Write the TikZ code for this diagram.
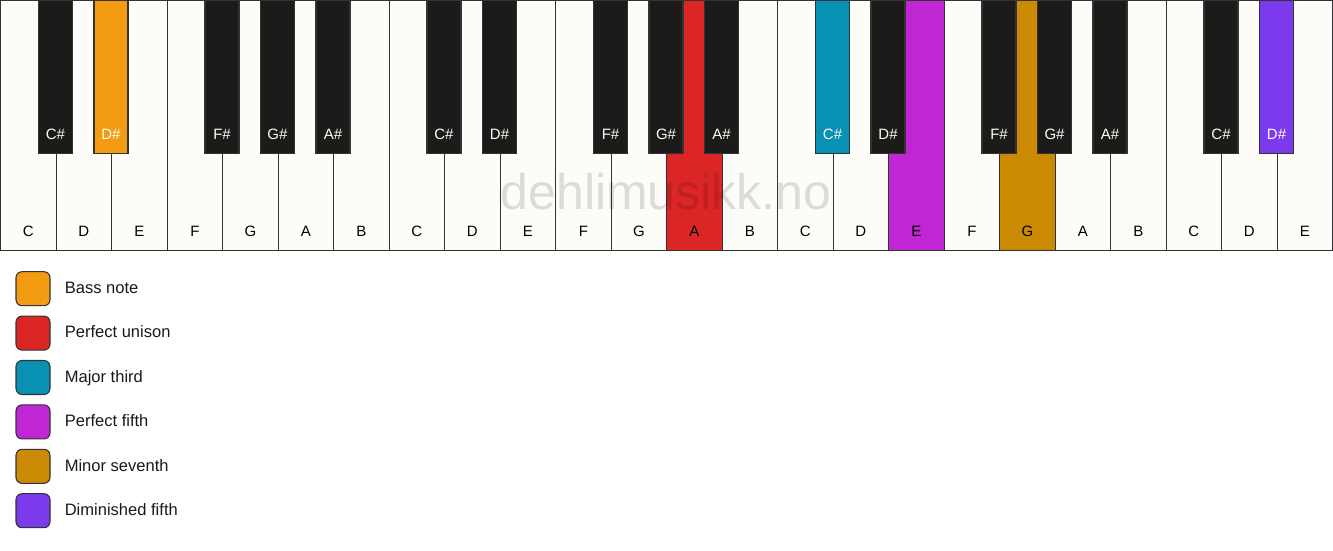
\documentclass[tikz,border=0pt]{standalone}
\usepackage{fontspec}
\setmainfont{Liberation Sans}
\usetikzlibrary{positioning}
\definecolor{keywhite}{HTML}{FDFCF8}
\definecolor{keyblack}{HTML}{1C1B19}
\definecolor{keyline}{HTML}{333333}
\definecolor{bass}{HTML}{F39C12}
\definecolor{unison}{HTML}{DC2626}
\definecolor{third}{HTML}{0891B2}
\definecolor{fifth}{HTML}{C026D3}
\definecolor{seventh}{HTML}{CA8A04}
\definecolor{dimfifth}{HTML}{7C3AED}
\tikzset{
	whitekey/.style={rectangle,draw=keyline,line width=.9pt,fill=keywhite,inner sep=0,minimum width=41.625pt,minimum height=187.5pt,anchor=north west},
	blackkey/.style={rectangle,draw=keyline,line width=.9pt,fill=keyblack,inner sep=0,minimum width=25.5pt,minimum height=114.75pt,anchor=north},
	keyname/.style={anchor=center,yshift=15pt,inner sep=0,font=\fontsize{11.25}{13}\selectfont},
	swatch/.style={rectangle,rounded corners=4.5pt,draw=keyline,line width=.8pt,inner sep=0,minimum size=25.5pt},
	legendtext/.style={inner sep=0,anchor=west,text=black!90,text height=.716em,text depth=0pt,font=\fontsize{12.4}{14}\selectfont},
	watermark/.style={text=black,text opacity=.13,font=\fontsize{37.5}{40}\selectfont}
}
\begin{document}
\begin{tikzpicture}[x=0.75pt,y=-0.75pt]
	\useasboundingbox (0,0) rectangle (1333,550);
	%%%white keys
	\foreach \n/\c [count=\i from 0] in {C/keywhite,D/keywhite,E/keywhite,F/keywhite,G/keywhite,A/keywhite,B/keywhite,
		C/keywhite,D/keywhite,E/keywhite,F/keywhite,G/keywhite,A/unison,B/keywhite,
		C/keywhite,D/keywhite,E/fifth,F/keywhite,G/seventh,A/keywhite,B/keywhite,
		C/keywhite,D/keywhite,E/keywhite}
		\node[whitekey,fill=\c,label={[keyname]below:\n}] (w\i) at (\i*55.5,0) {};
	
	%%%black keys
	\foreach \n/\b/\c in {C\#/1/keyblack,D\#/2/bass,F\#/4/keyblack,G\#/5/keyblack,A\#/6/keyblack,
		C\#/8/keyblack,D\#/9/keyblack,F\#/11/keyblack,G\#/12/keyblack,A\#/13/keyblack,
		C\#/15/third,D\#/16/keyblack,F\#/18/keyblack,G\#/19/keyblack,A\#/20/keyblack,
		C\#/22/keyblack,D\#/23/dimfifth}
		\node[blackkey,fill=\c,label={[keyname,text=keywhite]below:\n}] (b\b) at (\b*55.5,0) {};
	
	\node[watermark] (mark) at (666,192) {dehlimusikk.no};
	
	%%%legend
	\foreach \c/\t [count=\k from 0] in {bass/Bass note,unison/Perfect unison,third/Major third,
		fifth/Perfect fifth,seventh/Minor seventh,dimfifth/Diminished fifth}
	{
		\node[swatch,fill=\c] (sw\k) at (33,288.7+44.4*\k) {};
		\node[legendtext,right=10.5pt of sw\k] (lt\k) {\t};
	}
\end{tikzpicture}
\end{document}
